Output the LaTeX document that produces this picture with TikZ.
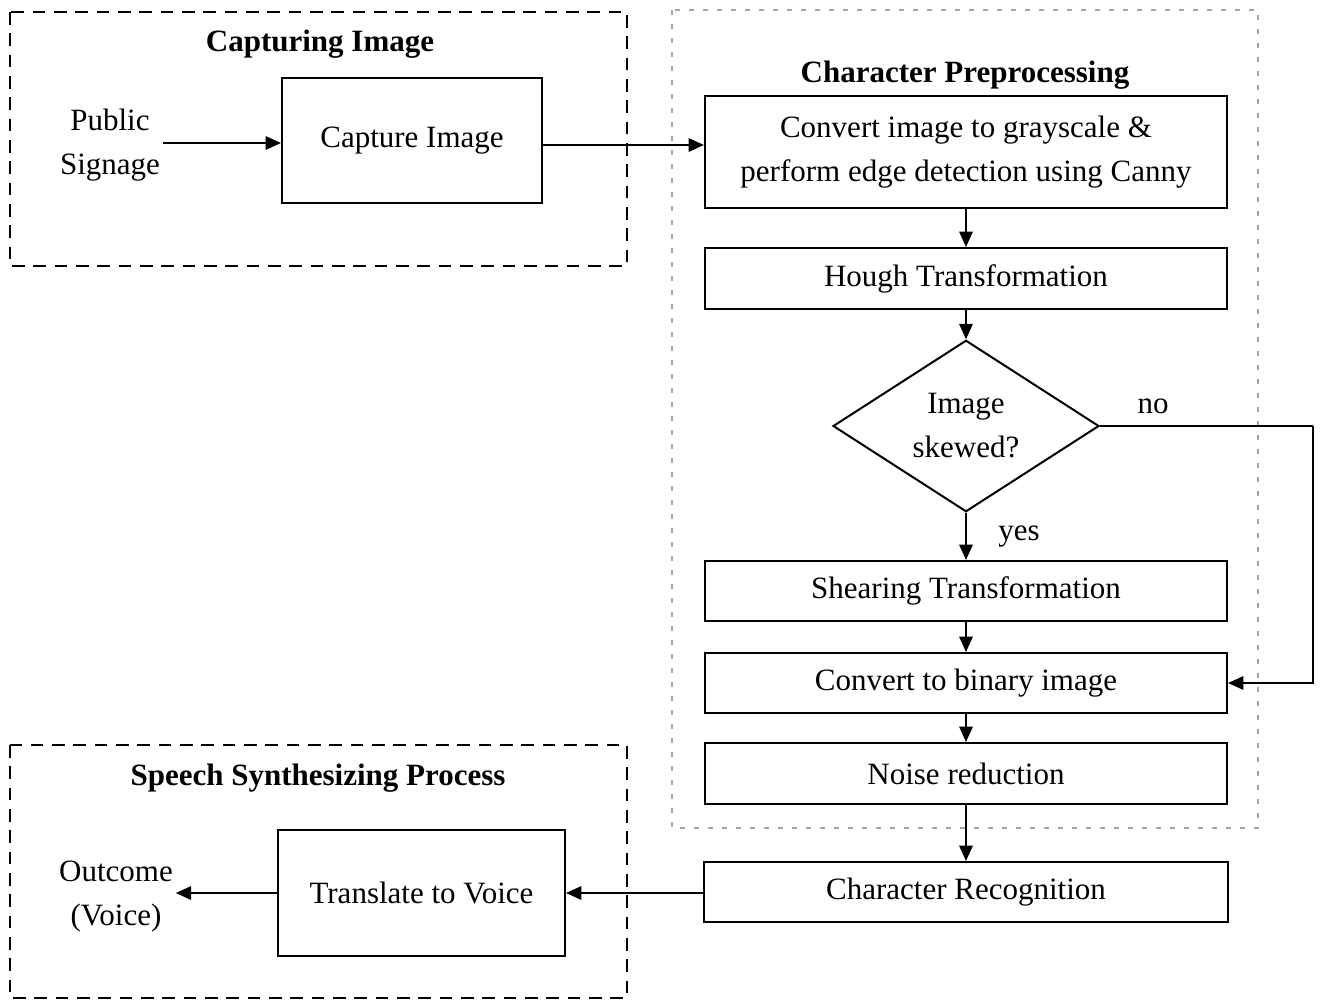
\documentclass[tikz,border=0pt]{standalone}
\usepackage{fontspec}
\setmainfont{Liberation Serif}
\usetikzlibrary{arrows.meta,shapes.geometric,calc}
\begin{document}
\begin{tikzpicture}[x=0.75pt,y=-0.75pt,
  every node/.style={font=\fontsize{23.25pt}{33pt}\selectfont},
  stepbox/.style={draw,line width=1.5pt,rectangle,inner sep=0pt,align=center},
  wide/.style={stepbox,minimum width=391.5pt},
  decision/.style={draw,line width=1.5pt,diamond,inner sep=0pt,align=center,
    minimum width=199.5pt,minimum height=124.5pt},
  heading/.style={font=\fontsize{23.25pt}{33pt}\selectfont\bfseries},
  plain/.style={align=center,inner sep=2pt},
  arr/.style={line width=1.5pt,-{Triangle[length=11.5pt,width=10pt]}},
  link/.style={line width=1.5pt},
  groupframe/.style={line width=1.5pt,dash pattern=on 9.5pt off 6.5pt},
  stageframe/.style={line width=0.8pt,gray!70,dash pattern=on 3.5pt off 7pt}]

\useasboundingbox[fill=white] (0,0) rectangle (1322,1001);

% group frames
\draw[groupframe] (10,12) rectangle (627,266);
\draw[groupframe] (10,745) rectangle (627,998);
\draw[stageframe] (672,10) rectangle (1258,828);

% headings
\node[heading] (hcap) at (320,44) {Capturing Image};
\node[heading] (hpre) at (965,75) {Character Preprocessing};
\node[heading] (hsyn) at (318,778) {Speech Synthesizing Process};

% capturing stage
\node[plain] (pub) at (110,145) {Public\\Signage};
\node[stepbox,minimum width=195pt,minimum height=93.75pt] (cap) at (412,140.5) {Capture Image};

% preprocessing stage
\node[wide,minimum height=84pt] (conv) at (966,152) {Convert image to grayscale \&\\perform edge detection using Canny};
\node[wide,minimum height=45.75pt] (hough) at (966,278.5) {Hough Transformation};
\node[decision] (skew) at (966,426) {Image\\skewed?};
\node[wide,minimum height=45pt] (shear) at (966,591) {Shearing Transformation};
\node[wide,minimum height=45pt] (bin) at (966,683) {Convert to binary image};
\node[wide,minimum height=45.75pt] (noise) at (966,773.5) {Noise reduction};
\node[stepbox,minimum width=393pt,minimum height=45pt] (rec) at (966,892) {Character Recognition};

% synthesizing stage
\node[stepbox,minimum width=215.25pt,minimum height=94.5pt] (trans) at (421.5,893) {Translate to Voice};
\node[plain] (out) at (116,897) {Outcome\\(Voice)};

% branch labels
\node[plain] (lno) at (1153,406) {no};
\node[plain] (lyes) at (1019,537) {yes};

% connectors
\draw[arr] (pub.east |- 0,143) -- (cap.west |- 0,143);
\draw[arr] (cap.east |- 0,145) -- (conv.west |- 0,145);
\draw[arr] (conv.south) -- (hough.north);
\draw[arr] (hough.south) -- (skew.north);
\draw[arr] (skew.south) -- (shear.north);
\draw[arr] (shear.south) -- (bin.north);
\draw[arr] (bin.south) -- (noise.north);
\draw[arr] (noise.south) -- (rec.north);
\coordinate (noturn) at (1313,426);
\draw[link] (skew.east) -- (noturn);
\draw[arr] (noturn) |- (bin.east);
\draw[arr] (rec.west |- trans.east) -- (trans.east);
\draw[arr] (trans.west) -- (out.east |- trans.west);
\end{tikzpicture}
\end{document}
